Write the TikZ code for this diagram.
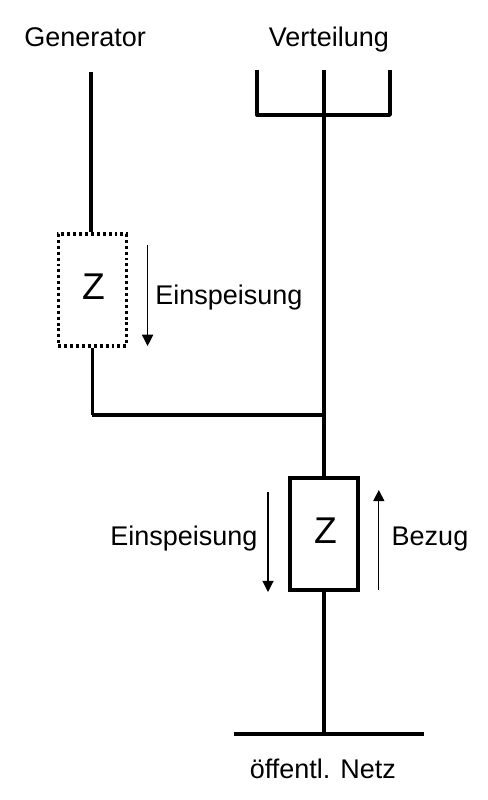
\documentclass[tikz,border=0pt]{standalone}
\usepackage{fontspec}
\setmainfont{Liberation Sans}
\usetikzlibrary{
  positioning,
  arrows.meta
}

\begin{document}
\begin{tikzpicture}[wire/.style={line width=2.5pt},
    zbox/.style={rectangle,draw,line width=2.4pt,minimum width=1.7cm,minimum height=2.8cm,inner sep=0pt},
    zdotted/.style={zbox,line width=2.5pt,dash pattern=on 2.1pt off 2.1pt},
    ztxt/.style={anchor=base,inner sep=0pt,font=\fontsize{26.5}{30}\selectfont},
    flow/.style={line width=0.75pt,-{Triangle[width=8pt,length=8pt]}},
    lbl/.style={anchor=base,inner sep=0pt,font=\fontsize{19.2}{23}\selectfont}]
      \useasboundingbox (0,0) rectangle (12.175,20);
      % labels
      \node at (2.13,18.83) [lbl] (generator) {Generator};
      \node at (8.22,18.83) [lbl] (verteilung) {Verteilung};
      \node at (5.72,12.375) [lbl] (einsp1) {Einspeisung};
      \node at (4.6,6.35) [lbl] (einsp2) {Einspeisung};
      \node at (10.75,6.35) [lbl] (bezug) {Bezug};
      \node at (8.07,0.545) [lbl] (netz) {öffentl. Netz};
      % boxes
      \node at (2.31,12.75) [zdotted] (zgen) {};
      \node at (2.34,12.52) [ztxt] (zgentxt) {Z};
      \node at (8.1,6.65) [zbox] (znetz) {};
      \node at (8.14,6.41) [ztxt] (znetztxt) {Z};
      % coordinates
      \coordinate (gtop) at (2.275,18.2);
      \coordinate (jleft) at (2.31,9.625);
      \coordinate (jmain) at (8.1,9.625);
      \coordinate (vtop) at (8.1,18.25);
      \coordinate (vfork) at (8.1,17.125);
      \coordinate (vleft) at (6.42,18.25);
      \coordinate (vright) at (9.75,18.25);
      \coordinate (nbar) at (8.1,1.65);
      \coordinate (nleft) at (5.85,1.65);
      \coordinate (nright) at (10.6,1.65);
      \coordinate (a1top) at (3.69,13.88);
      \coordinate (a1bot) at (3.69,11.35);
      \coordinate (a2top) at (6.7,7.7);
      \coordinate (a2bot) at (6.7,5.2);
      \coordinate (a3top) at (9.47,7.75);
      \coordinate (a3bot) at (9.47,5.25);
      % wires
      \draw [wire] (gtop) -- (gtop |- zgen.north);
      \draw [wire] (zgen.south) -- (jleft);
      \draw [wire] (jleft) -- (jmain);
      \draw [wire] (vtop) -- (znetz.north);
      \draw [wire] (znetz.south) -- (nbar);
      \draw [wire,line join=round] (vleft) |- (vright |- vfork) -- (vright);
      \draw [wire] (nleft) -- (nright);
      % arrows
      \draw [flow] (a1top) -- (a1bot);
      \draw [flow] (a2top) -- (a2bot);
      \draw [flow] (a3bot) -- (a3top);
  \end{tikzpicture}
\end{document}
